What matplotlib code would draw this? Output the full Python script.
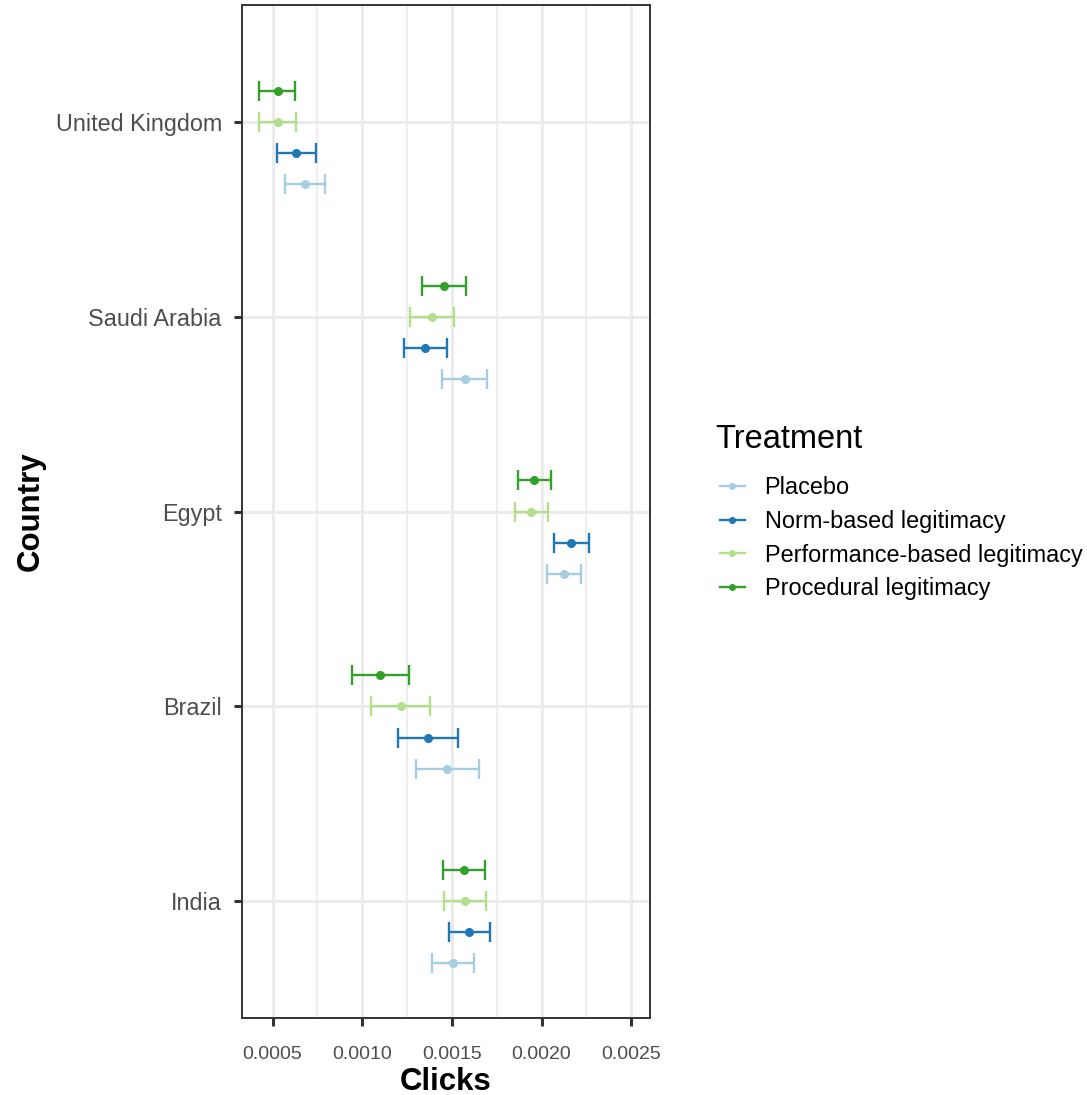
import numpy as np
import matplotlib
matplotlib.use("Agg")
import matplotlib.pyplot as plt
from matplotlib.lines import Line2D

plt.rcParams['font.family'] = ['Liberation Sans', 'DejaVu Sans']

countries = ["India", "Brazil", "Egypt", "Saudi Arabia", "United Kingdom"]
treatments = ["Placebo", "Norm-based legitimacy",
              "Performance-based legitimacy", "Procedural legitimacy"]
colours = ["#A6CEE3", "#1F78B4", "#B2DF8A", "#33A02C"]

# point estimates, per treatment, countries in the order above
est_placebo = [0.001506, 0.001474, 0.002124, 0.001573, 0.000679]
est_norm = [0.001597, 0.001365, 0.002165, 0.001352, 0.000632]
est_perf = [0.001573, 0.001214, 0.001943, 0.001387, 0.000528]
est_proc = [0.001569, 0.001100, 0.001960, 0.001456, 0.000528]

# lower / upper ends of the intervals
lo_placebo = [0.001390, 0.001300, 0.002029, 0.001445, 0.000567]
hi_placebo = [0.001621, 0.001653, 0.002220, 0.001698, 0.000792]
lo_norm = [0.001482, 0.001197, 0.002070, 0.001234, 0.000522]
hi_norm = [0.001710, 0.001534, 0.002263, 0.001471, 0.000742]
lo_perf = [0.001456, 0.001050, 0.001852, 0.001266, 0.000422]
hi_perf = [0.001688, 0.001380, 0.002038, 0.001513, 0.000628]
lo_proc = [0.001452, 0.000942, 0.001867, 0.001333, 0.000425]
hi_proc = [0.001686, 0.001260, 0.002053, 0.001580, 0.000626]

ests = [est_placebo, est_norm, est_perf, est_proc]
lows = [lo_placebo, lo_norm, lo_perf, lo_proc]
highs = [hi_placebo, hi_norm, hi_perf, hi_proc]
offsets = [-0.32, -0.16, 0.0, 0.16]

fig = plt.figure(figsize=(10.87, 10.95), dpi=100)
ax = fig.add_axes([0.2226, 0.0703, 0.3754, 0.9251])

ypos = np.arange(1, len(countries) + 1)
for est, lo, hi, off, col in zip(ests, lows, highs, offsets, colours):
    est = np.array(est)
    err = [est - np.array(lo), np.array(hi) - est]
    ax.errorbar(est, ypos + off, xerr=err, fmt='o', color=col, ms=5.5,
                elinewidth=1.7, capsize=7.5, capthick=1.7, zorder=3)

ax.set_xlim(0.000329, 0.002605)
ax.set_ylim(0.4, 5.6)
ax.set_yticks(ypos)
ax.set_yticklabels(countries)
xt = [0.0005, 0.0010, 0.0015, 0.0020, 0.0025]
ax.set_xticks(xt)
ax.set_xticklabels(["%.4f" % v for v in xt])
ax.set_xticks([0.00075, 0.00125, 0.00175, 0.00225], minor=True)

ax.grid(True, which='major', color='#EBEBEB', lw=2.2, zorder=0)
ax.grid(True, which='minor', axis='x', color='#EBEBEB', lw=1.2, zorder=0)
ax.set_axisbelow(True)
for s in ax.spines.values():
    s.set_color('#333333')
    s.set_linewidth(1.4)
ax.tick_params(which='major', length=6, width=2.2, color='#333333',
               labelcolor='#4D4D4D')
ax.tick_params(which='minor', length=0)
ax.tick_params(axis='x', labelsize=14, pad=14)
ax.tick_params(axis='y', labelsize=16.8, pad=8.5)

ax.set_xlabel("Clicks", fontsize=22.5, fontweight='bold', labelpad=3)
ax.set_ylabel("Country", fontsize=22.5, fontweight='bold', labelpad=7)

# legend: title drawn separately so the gap to the keys matches
fig.text(715 / 1087, 1 - 440 / 1095, "Treatment", fontsize=23.5, va='center')
handles = [Line2D([], [], color=c, marker='o', ms=4, lw=1.7) for c in colours]
leg = fig.legend(handles, treatments, loc='upper left',
                 bbox_to_anchor=(720 / 1087, 1 - 476 / 1095), frameon=False,
                 fontsize=16.9, handlelength=1.05, handletextpad=0.85,
                 labelspacing=0.46, borderpad=0, borderaxespad=0)

fig.savefig("out.png", dpi=100)
